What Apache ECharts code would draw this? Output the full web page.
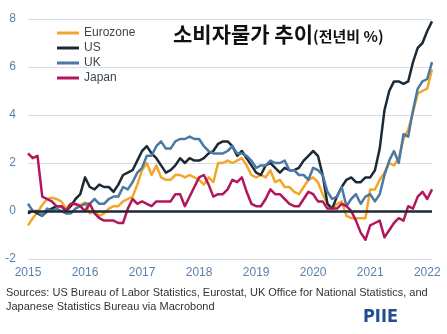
<!DOCTYPE html>
<html>
<head>
<meta charset="utf-8">
<script src="https://cdn.jsdelivr.net/npm/echarts@6/dist/echarts.min.js"></script>
<style>
  html, body { margin: 0; padding: 0; background: #ffffff; }
  #chart { width: 447px; height: 334px; }
</style>
</head>
<body>
<div id="chart"></div>
<script>
// Monthly year-on-year consumer price inflation, Jan 2015 – Feb 2022 (%)
const firstYear = 2015;
const monthCount = 86;

const eurozone = [
  -0.6, -0.3, -0.05, 0.25, 0.5, 0.55, 0.5, 0.4, 0.1, 0.3, 0.25, 0.25,
  0.35, -0.1, 0.0, -0.2, -0.1, 0.1, 0.2, 0.2, 0.4, 0.5, 0.6, 1.1,
  1.7, 2.0, 1.5, 1.9, 1.4, 1.3, 1.3, 1.5, 1.5, 1.4, 1.5, 1.4,
  1.3, 1.1, 1.4, 1.2, 2.0, 2.0, 2.1, 2.0, 2.1, 2.2, 1.9, 1.5,
  1.4, 1.5, 1.4, 1.7, 1.2, 1.3, 1.0, 1.0, 0.8, 0.7, 1.0, 1.3,
  1.4, 1.2, 0.7, 0.3, 0.1, 0.3, 0.4, -0.2, -0.3, -0.3, -0.3, -0.3,
  0.9, 0.9, 1.3, 1.6, 2.0, 1.9, 2.2, 3.0, 3.4, 4.1, 4.9, 5.0,
  5.1, 5.9
];

const us = [
  -0.1, 0.0, -0.1, -0.2, 0.0, 0.1, 0.2, 0.2, 0.0, 0.2, 0.5, 0.7,
  1.4, 1.0, 0.9, 1.1, 1.0, 1.0, 0.8, 1.1, 1.5, 1.6, 1.7, 2.1,
  2.5, 2.7, 2.4, 2.2, 1.9, 1.6, 1.7, 1.9, 2.2, 2.0, 2.2, 2.1,
  2.1, 2.2, 2.4, 2.5, 2.8, 2.9, 2.9, 2.7, 2.3, 2.5, 2.2, 1.9,
  1.6, 1.5, 1.9, 2.0, 1.8, 1.6, 1.8, 1.7, 1.7, 1.8, 2.1, 2.3,
  2.5, 2.3, 1.5, 0.3, 0.1, 0.6, 1.0, 1.3, 1.4, 1.2, 1.2, 1.4,
  1.4, 1.7, 2.6, 4.2, 5.0, 5.4, 5.4, 5.3, 5.4, 6.2, 6.8, 7.0,
  7.5, 7.9
];

const uk = [
  0.3, 0.0, 0.0, -0.2, 0.1, 0.0, 0.1, 0.0, -0.1, -0.1, 0.1, 0.2,
  0.3, 0.3, 0.5, 0.3, 0.3, 0.5, 0.6, 0.6, 1.0, 0.9, 1.2, 1.6,
  1.8, 2.3, 2.3, 2.7, 2.9, 2.6, 2.6, 2.9, 3.0, 3.0, 3.1, 3.0,
  3.0, 2.7, 2.5, 2.4, 2.4, 2.4, 2.5, 2.7, 2.4, 2.4, 2.3, 2.1,
  1.8, 1.9, 1.9, 2.1, 2.0, 2.0, 2.1, 1.7, 1.7, 1.5, 1.5, 1.3,
  1.8, 1.7, 1.5, 0.8, 0.5, 0.6, 1.0, 0.2, 0.5, 0.7, 0.3, 0.6,
  0.7, 0.4, 0.7, 1.5, 2.1, 2.5, 2.0, 3.2, 3.1, 4.2, 5.1, 5.4,
  5.5, 6.2
];

const japan = [
  2.4, 2.2, 2.3, 0.6, 0.5, 0.4, 0.2, 0.2, 0.0, 0.3, 0.3, 0.2,
  0.0, 0.3, -0.1, -0.3, -0.4, -0.4, -0.4, -0.5, -0.5, 0.1, 0.5, 0.3,
  0.4, 0.3, 0.2, 0.4, 0.4, 0.4, 0.4, 0.7, 0.7, 0.2, 0.6, 1.0,
  1.4, 1.5, 1.1, 0.6, 0.7, 0.7, 0.9, 1.3, 1.2, 1.4, 0.8, 0.3,
  0.2, 0.2, 0.5, 0.9, 0.7, 0.7, 0.5, 0.3, 0.2, 0.2, 0.5, 0.8,
  0.7, 0.4, 0.4, 0.1, 0.1, 0.1, 0.3, 0.2, 0.0, -0.4, -0.9, -1.2,
  -0.6, -0.5, -0.4, -1.1, -0.8, -0.5, -0.3, -0.4, 0.2, 0.1, 0.6, 0.8,
  0.5, 0.9
];

const seriesNames = ['Eurozone', 'US', 'UK', 'Japan'];
const seriesColors = ['#f4a62a', '#1c2a36', '#4a79a5', '#b3175b'];
const yTicks = { min: -2, max: 8, step: 2 };

const titleMain = '소비자물가 추이';
const titleUnit = '(전년비 %)';
const sourceLines = [
  'Sources: US Bureau of Labor Statistics, Eurostat, UK Office for National Statistics, and',
  'Japanese Statistics Bureau via Macrobond'
];
const brand = 'PIIE';

// Month categories, e.g. "2015-01"
const months = [];
for (let i = 0; i < monthCount; i++) {
  const y = firstYear + Math.floor(i / 12);
  const m = (i % 12) + 1;
  months.push(y + '-' + (m < 10 ? '0' + m : m));
}

const axisBlue = '#5b82ab';
const font = '"Liberation Sans", Arial, sans-serif';

const chart = echarts.init(document.getElementById('chart'), null, { renderer: 'canvas' });

const seriesData = [eurozone, us, uk, japan];
const series = seriesNames.map((name, k) => ({
  name: name,
  type: 'line',
  data: seriesData[k],
  showSymbol: false,
  symbol: 'none',
  lineStyle: { width: 2.5, color: seriesColors[k], join: 'round' },
  itemStyle: { color: seriesColors[k] },
  z: 3
}));

// Zero baseline drawn over the lines
series[3].markLine = {
  silent: true,
  symbol: ['none', 'none'],
  label: { show: false },
  lineStyle: { color: '#1c2a36', width: 2.5, type: 'solid' },
  data: [{ yAxis: 0 }],
  animation: false
};

chart.setOption({
  animation: false,
  backgroundColor: '#ffffff',
  grid: { left: 28, right: 15, top: 19, bottom: 75, containLabel: false },
  title: {
    left: 168,
    top: 19,
    text: '{a|' + titleMain + '}{b|' + titleUnit + '}',
    textStyle: {
      rich: {
        a: { fontFamily: '"Noto Sans CJK KR", sans-serif', fontWeight: 'bold', fontSize: 21, color: '#111111' },
        b: { fontFamily: '"Noto Sans CJK KR", sans-serif', fontWeight: 'bold', fontSize: 15, color: '#111111', padding: [3, 0, 0, 0] }
      }
    }
  },
  legend: {
    orient: 'vertical',
    left: 52,
    top: 22,
    itemWidth: 22,
    itemHeight: 3,
    itemGap: 3,
    icon: 'rect',
    data: seriesNames,
    textStyle: { fontFamily: font, fontSize: 12, color: '#3d4650', lineHeight: 12 }
  },
  xAxis: {
    type: 'category',
    data: months,
    boundaryGap: false,
    axisLine: { show: false },
    axisTick: { show: false },
    splitLine: { show: false },
    axisLabel: {
      interval: (idx) => idx % 12 === 0,
      formatter: (v) => v.slice(0, 4),
      color: axisBlue,
      fontFamily: font,
      fontSize: 12,
      margin: 8
    }
  },
  yAxis: {
    type: 'value',
    min: yTicks.min,
    max: yTicks.max,
    interval: yTicks.step,
    axisLine: { show: false },
    axisTick: { show: false },
    axisLabel: { color: axisBlue, fontFamily: font, fontSize: 12, margin: 12 },
    splitLine: { lineStyle: { color: '#d5dee8', width: 1 } }
  },
  series: series,
  graphic: [
    {
      type: 'text',
      left: 6,
      top: 286,
      style: {
        text: sourceLines.join('\n'),
        fontFamily: font,
        fontSize: 11,
        lineHeight: 14,
        fill: '#333333'
      }
    },
    {
      type: 'text',
      left: 363,
      top: 308,
      style: {
        text: brand,
        fontFamily: '"Liberation Sans Narrow", "DejaVu Sans Condensed", sans-serif',
        fontWeight: 'bold',
        fontSize: 18,
        fill: '#1f4f8f'
      }
    }
  ]
});
</script>
</body>
</html>
